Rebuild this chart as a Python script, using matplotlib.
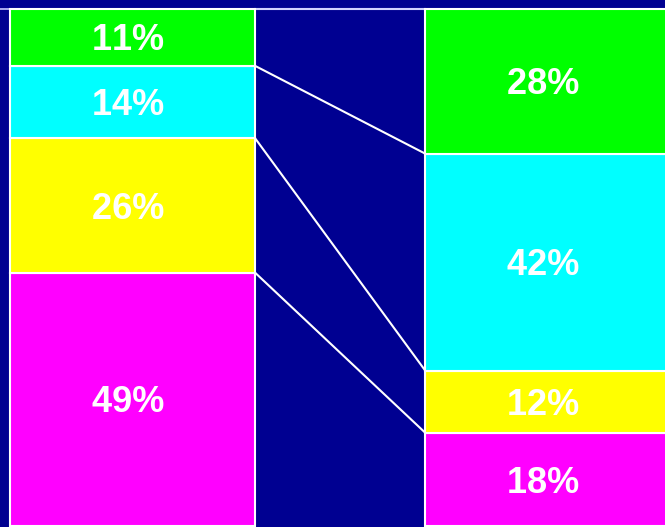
import matplotlib
matplotlib.use("Agg")
import matplotlib.pyplot as plt
import numpy as np

categories = ["A", "B"]
segment_labels = ["bottom", "lower", "upper", "top"]
left_values = [49, 26, 14, 11]
right_values = [18, 12, 42, 28]
colors = ["#ff00ff", "#ffff00", "#00ffff", "#00ff00"]
bg = "#000091"

fig = plt.figure(figsize=(6.65, 5.27), dpi=100)
fig.patch.set_facecolor(bg)
ax = fig.add_axes([0, 0, 1, 1])
ax.set_facecolor(bg)

xpos = np.array([0.0, 1.0])
width = 0.59
series = [left_values, right_values]

for i, vals in enumerate(series):
    bottom = 0
    for v, c in zip(vals, colors):
        ax.bar(xpos[i], v, width=width, bottom=bottom, color=c,
               edgecolor="white", linewidth=1.5, zorder=2)
        label = "\u200b".join(f"{v}%")
        ax.annotate(label, (xpos[i], bottom + v / 2), xytext=(-3.2, -9.4),
                    textcoords="offset points", ha="center", va="baseline",
                    color="white", fontsize=26, fontweight="bold",
                    family=["Liberation Sans", "DejaVu Sans"], zorder=3)
        bottom += v

# connecting lines between cumulative boundaries
lc = np.cumsum(left_values)
rc = np.cumsum(right_values)
for a, b in zip(lc, rc):
    ax.plot([xpos[0] + width / 2, xpos[1] - width / 2], [a, b],
            color="white", linewidth=1.5, zorder=1)
ax.axhline(100, color="#c8c8ff", linewidth=1.2, zorder=1)

ax.set_xlim(-0.319, 1.2816)
ax.set_ylim(-0.19, 101.74)
ax.axis("off")

fig.savefig("out.png", dpi=100, facecolor=bg)
